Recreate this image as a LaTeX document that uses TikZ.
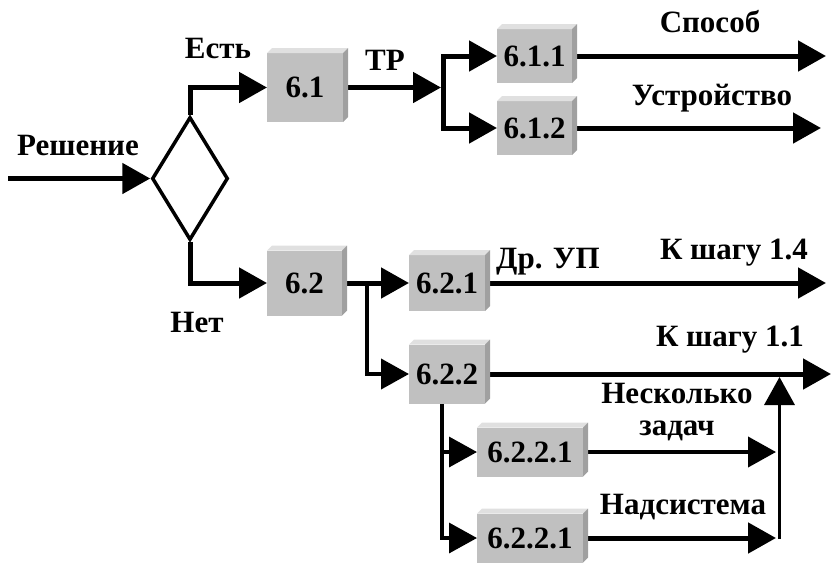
\documentclass[tikz,border=0pt]{standalone}
\usepackage{fontspec}
\setmainfont{Liberation Serif}
\usetikzlibrary{arrows.meta,shapes.geometric,backgrounds}
\definecolor{cfront}{RGB}{192,192,192}
\definecolor{ctop}{RGB}{224,224,224}
\definecolor{cside}{RGB}{160,160,160}
\tikzset{
  cube/.style={rectangle, fill=cfront, inner sep=0pt, outer sep=0pt, font=\fontsize{31}{32}\selectfont\bfseries},
  lbl/.style={font=\fontsize{31}{32}\selectfont\bfseries, inner sep=0pt, align=center},
  tipa/.tip={Triangle[length=28pt 0 0,width=30pt 0 0]},
  conn/.style={line width=5pt, line join=miter, -tipa},
  conntwo/.style={line width=5pt, line join=miter, tipa-tipa},
  thinconn/.style={line width=3.5pt, line join=miter, -tipa},
}
\newcommand\cubebox[6]{%
  \node[cube, minimum width=#4pt, minimum height=#5pt] (#1) at (#2,#3) {#6};
  \fill[ctop] (#1.north west) -- ++(5,-5) -- ([shift={(5,-5)}]#1.north east) -- (#1.north east) -- cycle;
  \fill[cside] (#1.north east) -- ([shift={(5,-5)}]#1.north east) -- ([shift={(5,-5)}]#1.south east) -- (#1.south east) -- cycle;
}
\begin{document}
\begin{tikzpicture}[x=1pt,y=-1pt]
\useasboundingbox (0,0) rectangle (832,563);
% decision
\node[diamond, draw, line width=3.5pt, minimum width=76pt, minimum height=123pt, inner sep=0pt] (d) at (190,178.5) {};
% boxes
\cubebox{b61}{305}{87.5}{76}{69}{6.1}
\cubebox{b611}{534.5}{56}{75}{54}{6.1.1}
\cubebox{b612}{534.5}{128}{75}{54}{6.1.2}
\cubebox{b62}{304.5}{283}{75}{65}{6.2}
\cubebox{b621}{447}{283}{76}{56}{6.2.1}
\cubebox{b622}{447}{374}{76}{59}{6.2.2}
\cubebox{b6221a}{530}{452}{106}{49}{6.2.2.1}
\cubebox{b6221b}{530}{538}{106}{49}{6.2.2.1}
% labels
\node[lbl] (t1) at (78,145) {Решение};
\node[lbl] (t2) at (218,48) {Есть};
\node[lbl] (t3) at (197,322) {Нет};
\node[lbl] (t4) at (385,60) {ТР};
\node[lbl] (t5) at (710,22) {Способ};
\node[lbl] (t6) at (712,98) {Устройство};
\node[lbl] (t7) at (548,262) {Др. УП};
\node[lbl] (t8) at (734,253) {К шагу 1.4};
\node[lbl] (t9) at (730,340) {К шагу 1.1};
\node[lbl] (t10) at (677,412) {Несколько\\задач};
\node[lbl] (t11) at (683,507) {Надсистема};
% coordinates
\coordinate (in) at (8,178.5);
\coordinate (j1a) at (441,87.5);
\coordinate (j1) at (443.5,90);
\coordinate (o1) at (826,56);
\coordinate (o2) at (821,128);
\coordinate (j2) at (367,283);
\coordinate (o3) at (826,283);
\coordinate (o4) at (831,374);
\coordinate (j3) at (442,403.5);
\coordinate (k1) at (776,452);
\coordinate (k2) at (776,538);
\coordinate (k3) at (779.5,539);
\begin{pgfonlayer}{background}
\draw[conn] (in) -- (d.west);
\draw[conn] (d.north) |- (b61.west);
\draw[conn] (b61.east) -- (j1a);
\draw[conntwo] (b611.west) -| (j1) |- (b612.west);
\draw[conn] (b611.east) -- (o1);
\draw[conn] (b612.east) -- (o2);
\draw[conn] (d.south) |- (b62.west);
\draw[conn] (b62.east) -- (b621.west);
\draw[conn, line width=4pt] (j2) |- (b622.west);
\draw[conn] (b621.east) -- (o3);
\draw[conn] (b622.east) -- (o4);
\draw[thinconn] (j3) |- (b6221a.west);
\draw[thinconn] (j3) |- (b6221b.west);
\draw[conn, line width=4pt] (b6221a.east) -- (k1);
\draw[conn] (b6221b.east) -- (k2);
\draw[thinconn, shorten >=3pt] (k3) -- (k3 |- o4);
\end{pgfonlayer}
\end{tikzpicture}
\end{document}
